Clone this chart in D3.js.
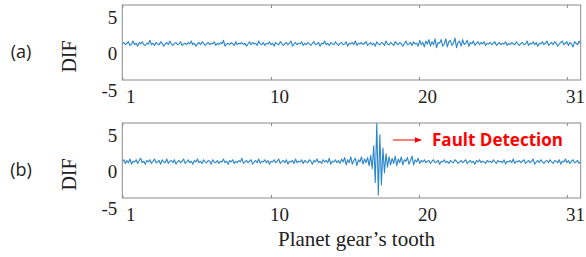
<!DOCTYPE html>
<html><head><meta charset="utf-8">
<script src="https://cdn.jsdelivr.net/npm/d3@7/dist/d3.min.js"></script>
<style>body{margin:0;background:#fff}svg{display:block}</style>
</head><body><svg id="c" width="586" height="257"></svg>
<script>
const panelLabels = ["(a)", "(b)"];
const yLabel = "DIF";
const xTitle = "Planet gear\u2019s tooth";
const annotation = "Fault Detection";
const yTickValues = [5, 0, -5];
const xTickLabels = ["1", "10", "20", "31"];
const xTickSamples = [0, 97, 193.5, 290];

const seriesA = [
1.3,1.5,1.2,1.4,1.6,1.1,1.3,1.7,1.2,1.4,1.0,1.5,1.3,1.6,1.2,1.1,1.4,1.3,1.8,1.2,
1.4,1.1,1.5,1.3,1.2,1.6,1.4,1.0,1.3,1.5,1.2,1.7,1.3,1.1,1.4,1.5,1.2,1.3,1.6,1.1,
1.3,1.4,1.2,1.5,1.3,1.7,1.2,1.4,1.0,1.3,1.5,1.2,1.6,1.4,1.1,1.3,1.5,1.2,1.4,1.3,
1.6,1.1,1.4,1.2,1.5,1.3,1.8,1.0,1.3,1.4,1.2,1.5,1.3,1.1,1.6,1.2,1.4,1.3,1.5,1.2,
1.4,1.0,1.3,1.6,1.2,1.5,1.3,1.4,1.1,1.7,1.3,1.2,1.5,1.1,1.4,1.3,1.6,1.2,1.4,1.0,
1.5,1.3,1.2,1.6,1.4,1.1,1.3,1.5,1.2,1.4,1.7,1.0,1.3,1.5,1.2,1.4,1.3,1.6,1.1,1.4,
1.2,1.5,1.3,1.1,1.4,1.6,1.2,1.3,1.5,1.0,1.4,1.3,1.7,1.2,1.4,1.1,1.5,1.3,1.2,1.6,
1.3,1.1,1.4,1.5,1.2,1.3,1.6,1.0,1.4,1.3,1.5,1.2,1.7,1.1,1.4,1.3,1.5,1.2,1.4,1.6,
1.1,1.3,1.5,1.2,1.4,1.0,1.6,1.3,1.2,1.5,1.4,1.1,1.7,1.3,1.2,1.5,1.3,1.1,1.6,1.4,
1.2,1.5,1.3,1.0,1.4,1.7,1.2,1.3,1.5,1.1,1.6,1.3,1.4,1.0,1.8,1.2,1.5,0.9,1.7,1.3,
1.9,1.0,1.6,1.2,2.0,0.8,1.5,1.4,1.9,1.0,1.3,2.0,0.9,1.6,1.8,1.1,1.4,2.1,0.8,1.5,
1.7,1.0,1.9,1.2,1.4,1.8,1.0,1.5,1.3,1.7,1.1,1.4,1.6,1.2,1.5,1.3,1.6,1.1,1.4,1.3,
1.5,1.2,1.4,1.6,1.1,1.3,1.5,1.2,1.4,1.3,1.6,1.1,1.4,1.2,1.5,1.3,1.2,1.6,1.3,1.1,
1.4,1.5,1.2,1.3,1.7,1.1,1.4,1.3,1.6,1.2,1.5,1.0,1.4,1.3,1.6,1.2,1.4,1.7,1.1,1.3,
1.5,1.2,1.6,1.4,1.0,1.3,1.5,1.7,1.2,1.4,1.6,1.1,1.5,1.3,0.9,1.6,1.4,1.2,1.7,1.3];

const seriesB = [
1.3,1.6,1.1,1.5,1.2,1.7,1.0,1.4,1.3,1.6,1.1,1.5,1.8,1.2,1.4,1.0,1.5,1.3,1.6,1.1,
1.4,1.7,1.2,1.3,1.5,1.0,1.6,1.3,1.2,1.7,1.1,1.4,1.5,1.2,1.6,1.0,1.3,1.5,1.2,1.4,
1.7,1.1,1.3,1.6,1.2,1.4,1.0,1.5,1.3,1.7,1.2,1.4,1.1,1.6,1.3,1.2,1.5,1.4,1.0,1.6,
1.3,1.2,1.5,1.1,1.4,1.3,1.7,1.2,1.4,1.0,1.5,1.3,1.6,1.1,1.4,1.2,1.5,1.3,1.8,1.1,
1.3,1.5,1.2,1.4,1.6,1.0,1.3,1.5,1.2,1.7,1.1,1.4,1.3,1.6,1.2,1.5,1.0,1.4,1.3,1.6,
1.2,1.4,1.7,1.1,1.3,1.5,1.2,1.6,1.0,1.4,1.3,1.5,1.1,1.7,1.2,1.4,1.3,1.6,1.1,1.5,
1.3,1.2,1.6,1.4,1.0,1.5,1.3,1.7,1.2,1.4,1.1,1.6,1.3,1.5,1.2,1.8,1.0,1.4,1.3,1.6,
1.2,1.5,1.1,1.7,1.3,1.9,0.9,1.6,1.2,2.0,1.0,1.5,1.8,0.8,1.6,1.3,2.0,1.0,1.7,1.2,
1.9,0.8,2.2,0.4,3.5,-1.5,6.6,-3.2,5.0,-1.8,3.2,-0.2,2.4,0.6,2.0,0.9,1.8,1.1,2.1,0.8,
1.7,1.2,2.0,0.9,1.6,1.4,1.9,1.0,1.5,2.1,0.9,1.6,1.3,1.8,1.1,1.5,1.3,1.6,1.2,1.4,
1.5,1.1,1.4,1.6,1.2,1.3,1.5,1.0,1.4,1.3,1.6,1.2,1.4,1.1,1.5,1.3,1.2,1.6,1.4,1.1,
1.3,1.5,1.2,1.4,1.6,1.1,1.3,1.5,1.2,1.4,1.0,1.5,1.3,1.6,1.2,1.4,1.3,1.1,1.5,1.3,
1.4,1.2,1.6,1.3,1.1,1.5,1.3,1.4,1.2,1.6,1.0,1.4,1.3,1.5,1.2,1.7,1.1,1.4,1.3,1.5,
1.2,1.4,1.6,1.1,1.3,1.5,1.2,1.4,1.7,1.0,1.3,1.5,1.2,1.6,1.3,1.1,1.4,1.5,1.2,1.6,
1.3,1.1,1.5,1.4,1.2,1.6,1.0,1.4,1.3,1.7,1.2,1.5,1.1,1.4,1.6,1.2,1.3,1.5,1.1,1.4];

const svg = d3.select("#c");
const serif = "'Liberation Serif','Times New Roman',serif";
const sans = "'Open Sans', Lato, sans-serif";
const left = 122.3, right = 580.7, ph = 75;
const tops = [5, 123];
const series = [seriesA, seriesB];

const x = d3.scaleLinear().domain([0, seriesA.length - 1]).range([left, right]);

series.forEach((data, k) => {
  const top = tops[k], bottom = top + ph;
  const y = d3.scaleLinear().domain([-3.6, 6.6]).range([bottom, top]);
  const g = svg.append("g");

  g.append("clipPath").attr("id", "clip" + k).append("rect")
    .attr("x", left).attr("y", top).attr("width", right - left).attr("height", ph);

  g.append("path").datum(data)
    .attr("clip-path", `url(#clip${k})`)
    .attr("fill", "none").attr("stroke", "#2a86cc").attr("stroke-width", 1.1)
    .attr("stroke-linejoin", "round")
    .attr("d", d3.line().x((d, i) => x(i)).y(d => y(d)));

  g.append("rect").attr("x", left).attr("y", top).attr("width", right - left).attr("height", ph)
    .attr("fill", "none").attr("stroke", "#8a8a8a").attr("stroke-width", 1);

  const fmt = (d, i) => xTickLabels[i];
  const ab = g.append("g").attr("transform", `translate(0,${bottom})`)
    .call(d3.axisBottom(x).tickValues(xTickSamples).tickFormat(fmt).tickSize(-3));
  ab.select(".domain").remove();
  ab.selectAll("line").attr("stroke", "#8a8a8a");
  ab.selectAll("text").attr("x", 8).attr("y", 23).attr("dy", 0)
    .attr("font-family", serif).attr("font-size", 19).attr("fill", "#222");

  const at = g.append("g").attr("transform", `translate(0,${top})`)
    .call(d3.axisTop(x).tickValues(xTickSamples).tickFormat("").tickSize(-3));
  at.select(".domain").remove();
  at.selectAll("line").attr("stroke", "#8a8a8a");

  const ay = g.append("g").attr("transform", `translate(${left},0)`)
    .call(d3.axisLeft(y).tickValues(yTickValues).tickFormat(d => String(d)).tickSize(0).tickPadding(5));
  ay.select(".domain").remove();
  ay.selectAll("text").attr("font-family", serif).attr("font-size", 19).attr("fill", "#222")
    .attr("dy", "0.33em");

  g.append("text").attr("transform", `translate(76,${(top + bottom) / 2 + 14}) rotate(-90)`)
    .attr("text-anchor", "middle").attr("font-family", serif).attr("font-size", 20)
    .attr("fill", "#222").text(yLabel);

  g.append("text").attr("x", 21).attr("y", top + 53).attr("text-anchor", "middle")
    .attr("font-family", sans).attr("font-size", 18)
    .attr("fill", "#222").text(panelLabels[k]);
});

svg.append("text").attr("x", (left + right) / 2 + 5).attr("y", 246).attr("text-anchor", "middle")
  .attr("font-family", serif).attr("font-size", 21).attr("fill", "#222").text(xTitle);

const defs = svg.append("defs");
defs.append("marker").attr("id", "ah").attr("viewBox", "0 0 10 10").attr("refX", 9).attr("refY", 5)
  .attr("markerWidth", 7).attr("markerHeight", 7).attr("orient", "auto")
  .append("path").attr("d", "M0,1L10,5L0,9Z").attr("fill", "#ff0000");
svg.append("line").attr("x1", 393).attr("y1", 140).attr("x2", 421).attr("y2", 140)
  .attr("stroke", "#ff0000").attr("stroke-width", 1).attr("marker-end", "url(#ah)");
svg.append("text").attr("x", 432).attr("y", 146).attr("font-family", sans)
  .attr("font-weight", "bold").attr("font-size", 17).attr("fill", "#ff0000")
  .attr("textLength", 131).attr("lengthAdjust", "spacingAndGlyphs").text(annotation);
</script></body></html>
